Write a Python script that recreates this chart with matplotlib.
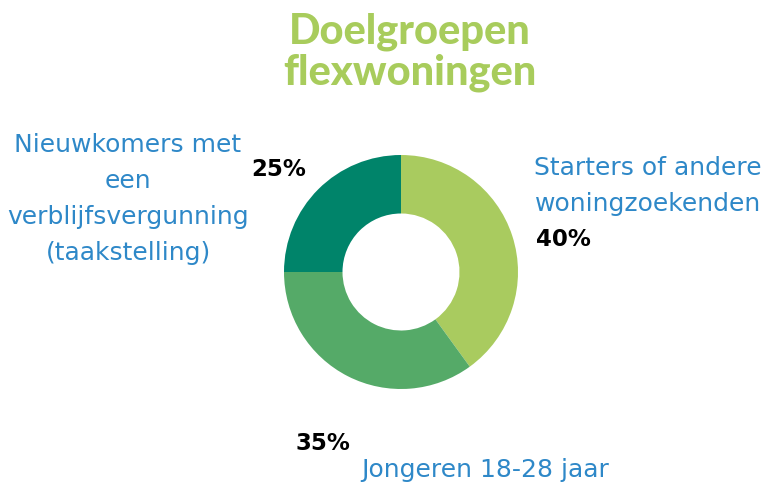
import matplotlib
matplotlib.use("Agg")
import matplotlib.pyplot as plt

categories = ["Starters of andere\nwoningzoekenden", "Jongeren 18-28 jaar",
              "Nieuwkomers met\neen\nverblijfsvergunning\n(taakstelling)"]
values = [40, 35, 25]
pct_labels = ["40%", "35%", "25%"]
colors = ["#A9CB5F", "#55AA68", "#00846A"]
title = "Doelgroepen\nflexwoningen"

W, H = 770, 487
fig = plt.figure(figsize=(W / 100, H / 100), dpi=100)

def fx(x):
    return x / W

def fy(y):
    return 1 - y / H

# donut axes: center (401,272), radius 117 px
cx, cy, r = 401, 272, 117
ax = fig.add_axes([fx(cx - r), fy(cy + r), 2 * r / W, 2 * r / H])
ax.pie(values, colors=colors, startangle=90, counterclock=False, radius=1,
       wedgeprops=dict(width=0.5, edgecolor="none"))
ax.set_xlim(-1, 1)
ax.set_ylim(-1, 1)
ax.set_aspect("equal")
ax.axis("off")

fig.text(fx(410), fy(52), title, ha="center", va="center", fontsize=30,
         fontweight="black", family="Lato", color="#A8CC5C", linespacing=1.08)

blue = "#2E88C8"
lab_font = dict(family="DejaVu Sans", fontsize=18, color=blue, linespacing=1.62)
fig.text(fx(128), fy(199), categories[2], ha="center", va="center", **lab_font)
fig.text(fx(648), fy(186), categories[0], ha="center", va="center", **lab_font)
fig.text(fx(485), fy(470), categories[1], ha="center", va="center", **lab_font)

pct_font = dict(family="DejaVu Sans", fontsize=16.5, fontweight="bold", color="black")
fig.text(fx(563), fy(240), pct_labels[0], ha="center", va="center", **pct_font)
fig.text(fx(323), fy(443), pct_labels[1], ha="center", va="center", **pct_font)
fig.text(fx(279), fy(170), pct_labels[2], ha="center", va="center", **pct_font)

fig.savefig("out.png", dpi=100, facecolor="white")
